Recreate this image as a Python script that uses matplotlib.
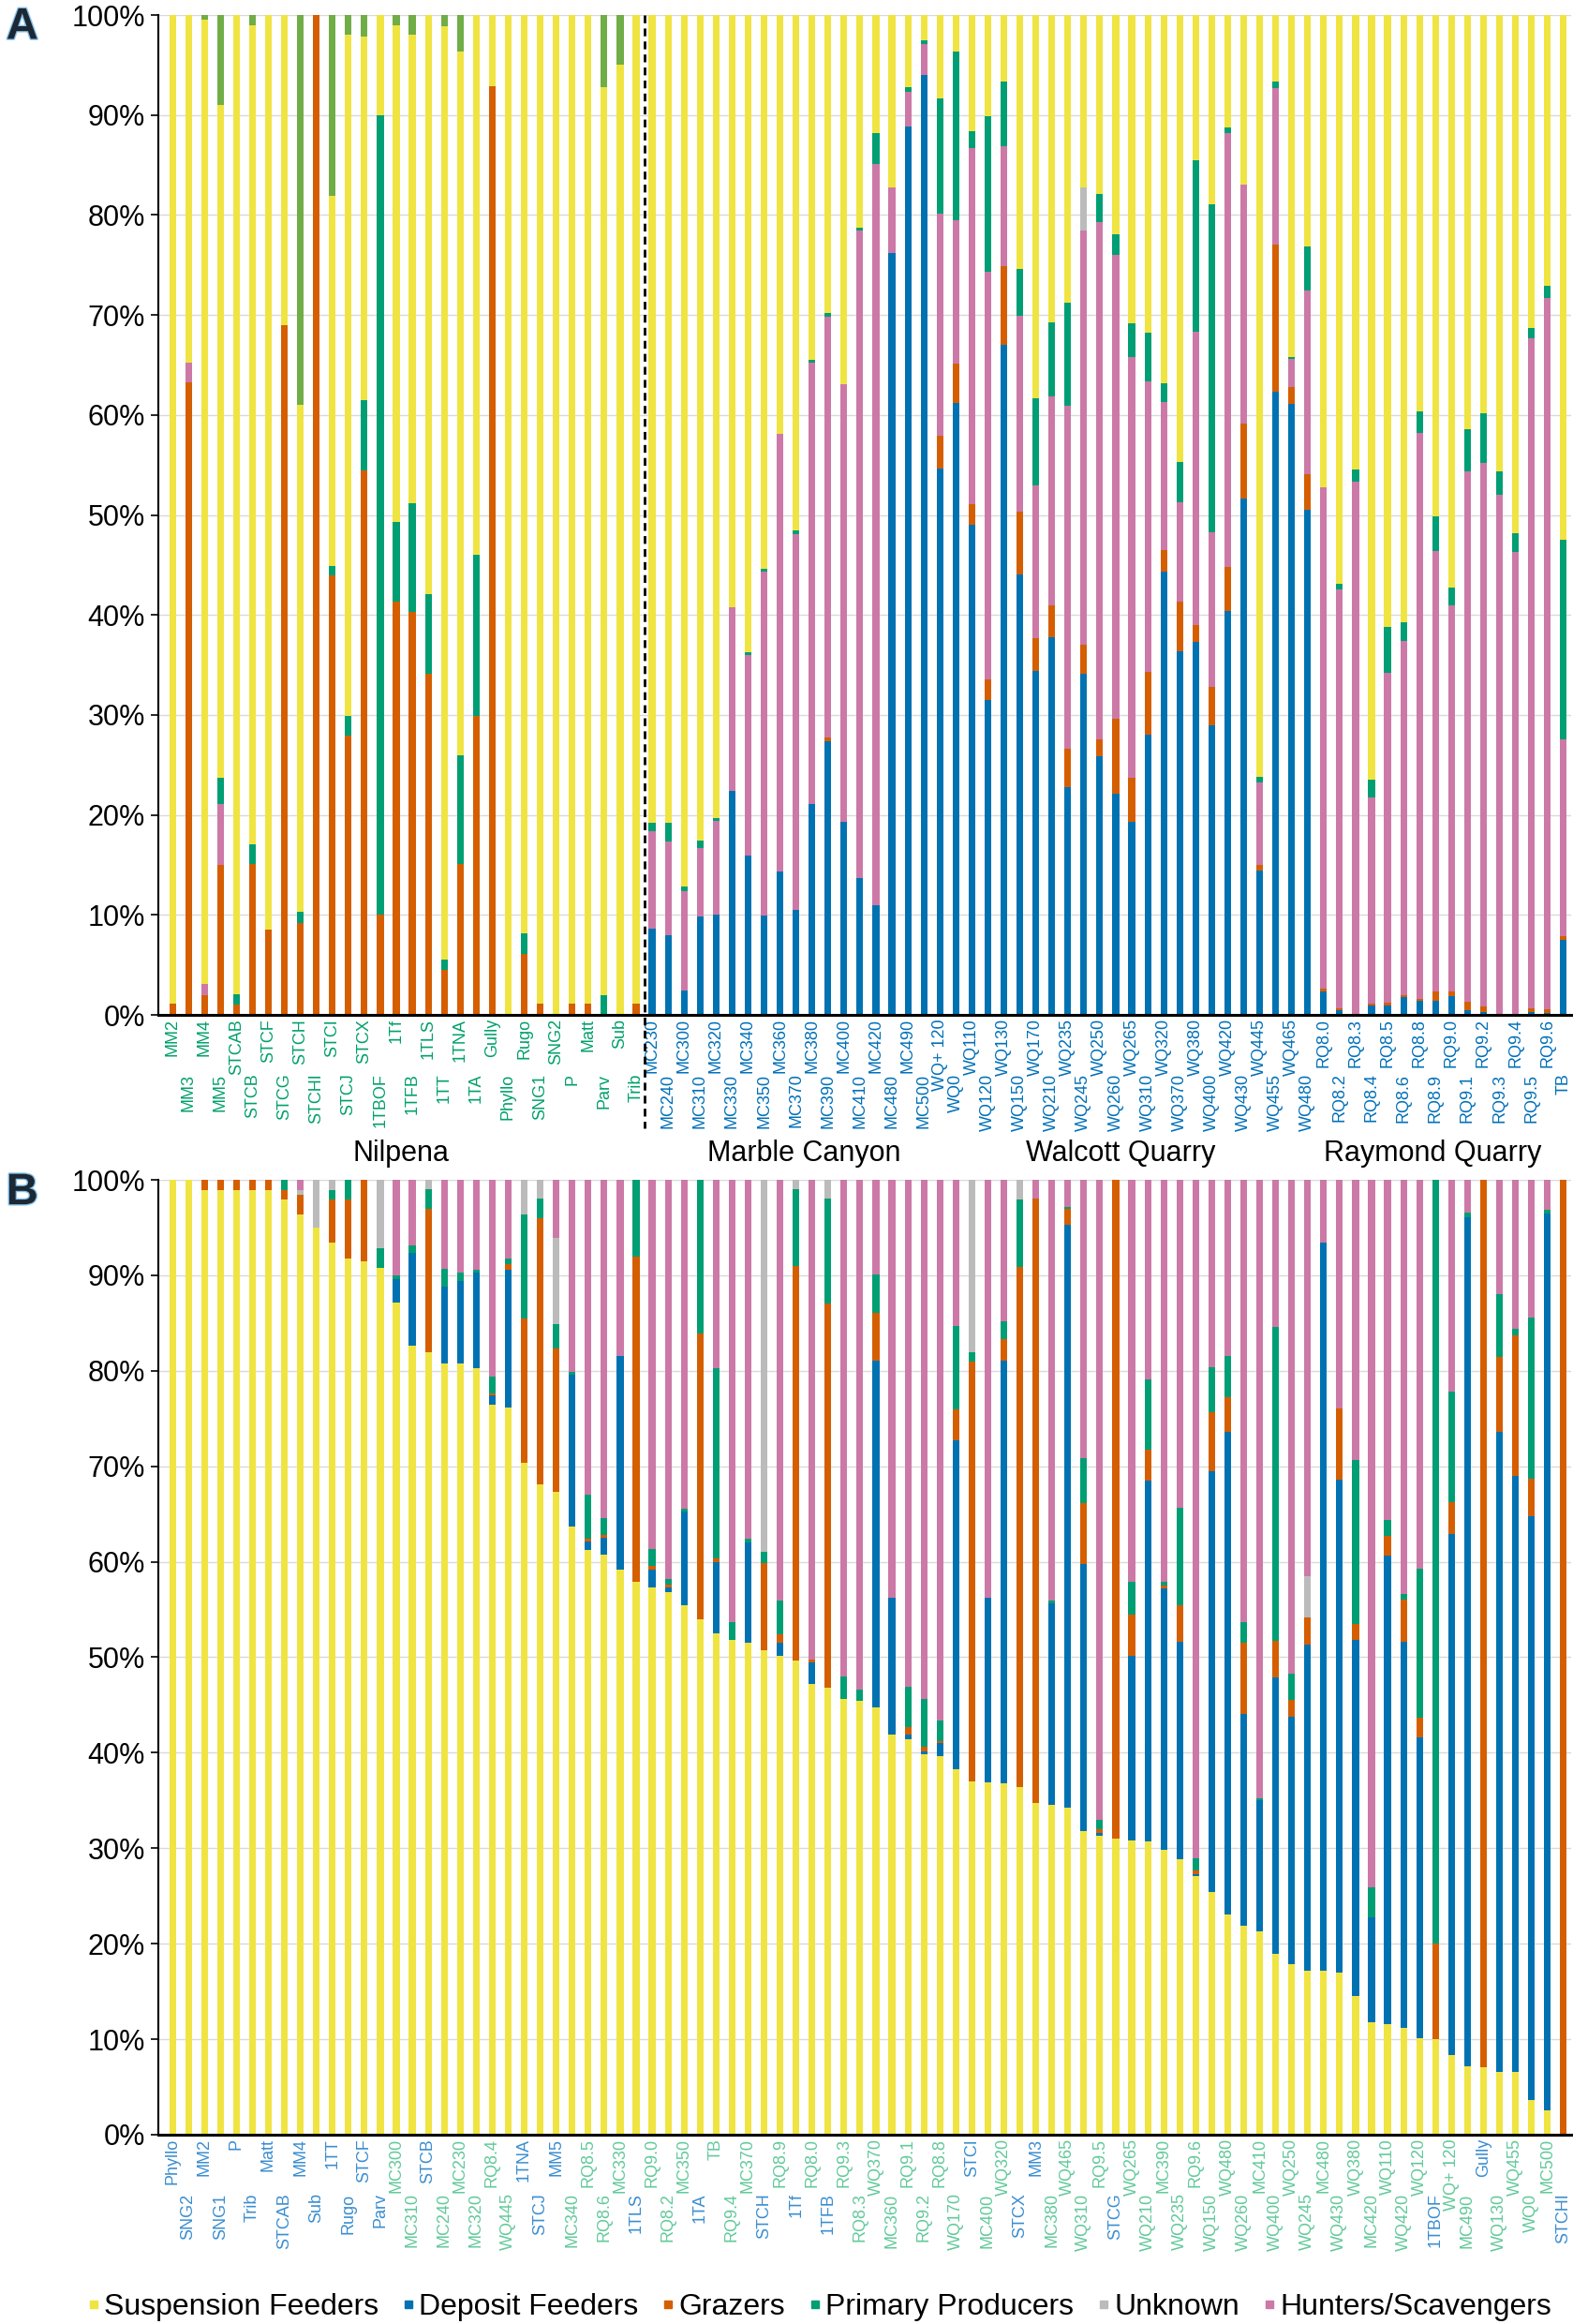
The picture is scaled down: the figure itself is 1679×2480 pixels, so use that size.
import numpy as np
import matplotlib
matplotlib.use('Agg')
import matplotlib.pyplot as plt
import matplotlib.transforms as mtransforms
import matplotlib.patheffects as pe
from matplotlib import font_manager
from matplotlib.lines import Line2D

plt.rcParams['font.family'] = ['Liberation Sans', 'DejaVu Sans']

# sites in panel A order (Nilpena first, then Burgess Shale localities)
sites = ['MM2', 'MM3', 'MM4', 'MM5', 'STCAB', 'STCB', 'STCF', 'STCG', 'STCH', 'STCHI',
         'STCI', 'STCJ', 'STCX', '1TBOF', '1Tf', '1TFB', '1TLS', '1TT', '1TNA', '1TA',
         'Gully', 'Phyllo', 'Rugo', 'SNG1', 'SNG2', 'P', 'Matt', 'Parv', 'Sub', 'Trib',
         'MC230', 'MC240', 'MC300', 'MC310', 'MC320', 'MC330', 'MC340', 'MC350', 'MC360', 'MC370',
         'MC380', 'MC390', 'MC400', 'MC410', 'MC420', 'MC480', 'MC490', 'MC500',
         'WQ+ 120', 'WQ0', 'WQ110', 'WQ120', 'WQ130', 'WQ150', 'WQ170', 'WQ210', 'WQ235', 'WQ245',
         'WQ250', 'WQ260', 'WQ265', 'WQ310', 'WQ320', 'WQ370', 'WQ380', 'WQ400', 'WQ420', 'WQ430',
         'WQ445', 'WQ455', 'WQ465', 'WQ480',
         'RQ8.0', 'RQ8.2', 'RQ8.3', 'RQ8.4', 'RQ8.5', 'RQ8.6', 'RQ8.8', 'RQ8.9', 'RQ9.0', 'RQ9.1',
         'RQ9.2', 'RQ9.3', 'RQ9.4', 'RQ9.5', 'RQ9.6', 'TB']
n_nilpena = 30

# percentages per feeding guild, same order as sites
deposit = [0, 0, 0, 0, 0, 0, 0, 0, 0, 0,
           0, 0, 0, 0, 0, 0, 0, 0, 0, 0,
           0, 0, 0, 0, 0, 0, 0, 0, 0, 0,
           8.6, 8.0, 2.4, 9.8, 10.0, 22.4, 15.9, 9.9, 14.3, 10.5,
           21.1, 27.4, 19.3, 13.7, 11.0, 76.2, 88.9, 94.0,
           54.6, 61.2, 49.0, 31.5, 67.0, 44.1, 34.4, 37.8, 22.8, 34.1,
           25.9, 22.1, 19.3, 28.0, 44.3, 36.3, 37.3, 28.9, 40.4, 51.6,
           14.4, 62.3, 61.1, 50.5,
           2.3, 0.5, 0, 0.9, 0.9, 1.8, 1.4, 1.4, 1.9, 0.5,
           0.3, 0, 0, 0.3, 0.2, 7.5]
grazers = [1.1, 63.2, 2.0, 15.0, 1.0, 15.1, 8.5, 69.0, 9.2, 100,
           44.0, 27.9, 54.5, 10.0, 41.3, 40.3, 34.1, 4.5, 15.1, 29.9,
           92.9, 0, 6.1, 1.1, 0, 1.1, 1.1, 0, 0, 1.1,
           0, 0, 0, 0, 0, 0, 0, 0, 0, 0,
           0, 0.3, 0, 0, 0, 0, 0, 0,
           3.3, 3.9, 2.1, 2.1, 7.9, 6.2, 3.3, 3.2, 3.8, 2.9,
           1.7, 7.5, 4.4, 6.3, 2.2, 5.0, 1.7, 3.9, 4.4, 7.5,
           0.6, 14.7, 1.7, 3.6,
           0.3, 0.2, 0, 0.2, 0.3, 0.2, 0.2, 0.9, 0.4, 0.8,
           0.5, 0, 0, 0.4, 0.4, 0.4]
hunters = [0, 2.0, 1.1, 6.1, 0, 0, 0, 0, 0, 0,
           0, 0, 0, 0, 0, 0, 0, 0, 0, 0,
           0, 0, 0, 0, 0, 0, 0, 0, 0, 0,
           9.7, 9.3, 10.0, 6.9, 9.4, 18.4, 20.1, 34.4, 43.8, 37.6,
           44.1, 42.1, 43.8, 64.8, 74.1, 6.6, 3.4, 3.1,
           22.2, 14.4, 35.6, 40.7, 12.0, 19.6, 15.3, 20.9, 34.3, 41.5,
           51.7, 46.3, 42.1, 29.1, 14.8, 9.9, 29.3, 15.4, 43.3, 23.9,
           8.2, 15.6, 2.8, 18.4,
           50.2, 41.8, 53.3, 20.6, 33.0, 35.4, 56.6, 44.1, 38.7, 53.1,
           54.4, 52.0, 46.3, 67.0, 71.1, 19.7]
producers = [0, 0, 0, 2.6, 1.1, 2.0, 0, 0, 1.1, 0,
             0.9, 2.0, 7.0, 80.0, 8.0, 10.9, 8.0, 1.0, 10.9, 16.1,
             0, 0, 2.1, 0, 0, 0, 0, 2.0, 0, 0,
             0.9, 1.9, 0.4, 0.7, 0.3, 0, 0.3, 0.3, 0, 0.4,
             0.3, 0.4, 0, 0.2, 3.1, 0, 0.5, 0.4,
             11.6, 16.9, 1.7, 15.6, 6.5, 4.7, 8.7, 7.4, 10.3, 0,
             2.8, 2.1, 3.4, 4.8, 1.9, 4.0, 17.2, 32.8, 0.6, 0,
             0.6, 0.7, 0.2, 4.4,
             0, 0.6, 1.2, 1.8, 4.6, 1.8, 2.2, 3.5, 1.7, 4.2,
             5.0, 2.4, 1.9, 1.0, 1.2, 19.9]
unknown = [0, 0, 0.5, 9.0, 0, 1.0, 0, 0, 39.0, 0,
           18.1, 2.0, 2.1, 0, 1.0, 2.0, 0, 1.1, 3.6, 0,
           0, 0, 0, 0, 0, 0, 0, 7.2, 5.0, 0,
           0, 0, 0, 0, 0, 0, 0, 0, 0, 0,
           0, 0, 0, 0, 0, 0, 0, 0,
           0, 0, 0, 0, 0, 0, 0, 0, 0, 4.3,
           0, 0, 0, 0, 0, 0, 0, 0, 0, 0,
           0, 0, 0, 0,
           0, 0, 0, 0, 0, 0, 0, 0, 0, 0,
           0, 0, 0, 0, 0, 0]
suspension = [98.9, 34.7, 96.4, 67.3, 97.9, 81.9, 91.5, 31.0, 50.7, 0,
              37.0, 68.1, 36.4, 10.0, 49.7, 46.8, 57.9, 93.4, 70.4, 54.0,
              7.1, 100, 91.8, 98.9, 100, 98.9, 98.9, 90.8, 95.0, 98.9,
              80.6, 80.8, 87.2, 82.6, 80.2, 59.2, 63.7, 55.4, 41.9, 51.5,
              34.5, 29.8, 36.9, 21.3, 11.8, 17.2, 7.2, 2.5,
              8.3, 3.6, 11.6, 10.1, 6.6, 25.4, 38.3, 30.7, 28.8, 17.2,
              17.9, 21.9, 30.8, 31.8, 36.8, 44.7, 14.5, 18.9, 11.2, 17.0,
              76.2, 6.6, 34.2, 23.1,
              47.2, 56.8, 45.4, 76.5, 61.2, 60.7, 39.6, 50.1, 57.3, 41.4,
              39.8, 45.6, 51.8, 31.3, 27.1, 52.5]

# panel B order (sites ranked by share of suspension feeders)
order_b = ['Phyllo', 'SNG2', 'MM2', 'SNG1', 'P', 'Trib', 'Matt', 'STCAB', 'MM4', 'Sub',
           '1TT', 'Rugo', 'STCF', 'Parv', 'MC300', 'MC310', 'STCB', 'MC240', 'MC230', 'MC320',
           'RQ8.4', 'WQ445', '1TNA', 'STCJ', 'MM5', 'MC340', 'RQ8.5', 'RQ8.6', 'MC330', '1TLS',
           'RQ9.0', 'RQ8.2', 'MC350', '1TA', 'TB', 'RQ9.4', 'MC370', 'STCH', 'RQ8.9', '1Tf',
           'RQ8.0', '1TFB', 'RQ9.3', 'RQ8.3', 'WQ370', 'MC360', 'RQ9.1', 'RQ9.2', 'RQ8.8', 'WQ170',
           'STCI', 'MC400', 'WQ320', 'STCX', 'MM3', 'MC380', 'WQ465', 'WQ310', 'RQ9.5', 'STCG',
           'WQ265', 'WQ210', 'MC390', 'WQ235', 'RQ9.6', 'WQ150', 'WQ480', 'WQ260', 'MC410', 'WQ400',
           'WQ250', 'WQ245', 'MC480', 'WQ430', 'WQ380', 'MC420', 'WQ110', 'WQ420', 'WQ120', '1TBOF',
           'WQ+ 120', 'MC490', 'Gully', 'WQ130', 'WQ455', 'WQ0', 'MC500', 'STCHI']

group_names = ['Nilpena', 'Marble Canyon', 'Walcott Quarry', 'Raymond Quarry']
group_pos = [14.3, 39.5, 59.3, 78.8]

c_susp = '#F0E442'
c_dep = '#0072B2'
c_graz = '#D55E00'
c_prod = '#009E73'
c_unk = '#BBBBBB'
c_hunt = '#CC79A7'
c_unk_nil = '#70AD47'

# site labels in the original are set in a narrow face
installed = {f.name for f in font_manager.fontManager.ttflist}
if 'Liberation Sans Narrow' in installed:
    tick_family, tick_size = 'Liberation Sans Narrow', 17
else:
    tick_family, tick_size = 'Liberation Sans', 13

# 100% stacked, like the spreadsheet version
data = np.array([deposit, grazers, hunters, producers, unknown, suspension], dtype=float)
data = data / data.sum(axis=0) * 100
dep, graz, hunt, prod, unk, susp = data
is_nil = np.arange(len(sites)) < n_nilpena


def draw_stack(ax, layers):
    x = np.arange(len(layers[0][0]))
    bottom = np.zeros(len(x))
    for vals, col in layers:
        ax.bar(x, vals, 0.42, bottom=bottom, color=col, linewidth=0, zorder=2)
        bottom += vals


def style_axes(ax, labels, colors):
    x = np.arange(len(labels))
    ax.set_xlim(-0.9, len(labels) - 0.5)
    ax.set_ylim(0, 100)
    ax.set_yticks(np.arange(0, 101, 10))
    ax.set_yticklabels([f'{v}%' for v in range(0, 101, 10)], fontsize=22)
    ax.tick_params(axis='y', length=6, width=1.2, pad=4)
    ax.grid(axis='y', color='#D9D9D9', linewidth=1, zorder=0)
    ax.set_axisbelow(True)
    for s in ['top', 'right']:
        ax.spines[s].set_visible(False)
    ax.spines['left'].set_linewidth(1.5)
    ax.spines['bottom'].set_linewidth(2.2)
    ax.set_xticks(x)
    ax.set_xticklabels(labels, rotation=90, fontsize=tick_size, family=tick_family)
    ax.tick_params(axis='x', length=0)
    # staggered labels, every other one pushed down a row
    for i, (tick, lab) in enumerate(zip(ax.xaxis.get_major_ticks(), ax.get_xticklabels())):
        tick.set_pad(3 if i % 2 == 0 else 45)
        lab.set_color(colors[i])


fig = plt.figure(figsize=(16.79, 24.80), dpi=100)
axA = fig.add_axes([0.1005, 0.5633, 0.8985, 0.4302])
axB = fig.add_axes([0.1005, 0.0815, 0.8985, 0.4108])

# panel A
unk_b = np.where(is_nil, 0, unk)
unk_n = np.where(is_nil, unk, 0)
draw_stack(axA, [(dep, c_dep), (graz, c_graz), (hunt, c_hunt), (prod, c_prod),
                 (unk_b, c_unk), (susp, c_susp), (unk_n, c_unk_nil)])
colA = ['#00A06A' if n else '#0070B8' for n in is_nil]
style_axes(axA, sites, colA)
trA = mtransforms.blended_transform_factory(axA.transData, axA.transAxes)
axA.plot([n_nilpena - 0.5, n_nilpena - 0.5], [1, -0.113], transform=trA, color='black',
         linestyle=(0, (3, 2)), linewidth=2, clip_on=False, zorder=5)
for name, pos in zip(group_names, group_pos):
    axA.text(pos, -0.139, name, transform=trA, ha='center', va='center', fontsize=22)

# panel B
idx = [sites.index(s) for s in order_b]
draw_stack(axB, [(susp[idx], c_susp), (dep[idx], c_dep), (graz[idx], c_graz),
                 (prod[idx], c_prod), (unk[idx], c_unk), (hunt[idx], c_hunt)])
colB = ['#3A8DD0' if is_nil[i] else '#62C99A' for i in idx]
style_axes(axB, order_b, colB)

for letter, y in [('A', 0.997), ('B', 0.4955)]:
    fig.text(0.004, y, letter, fontsize=34, fontweight='bold', color='#1C2833', va='top',
             path_effects=[pe.withStroke(linewidth=2, foreground='#85C1E9')])

legend_items = [('Suspension Feeders', c_susp), ('Deposit Feeders', c_dep), ('Grazers', c_graz),
                ('Primary Producers', c_prod), ('Unknown', c_unk), ('Hunters/Scavengers', c_hunt)]
handles = [Line2D([], [], marker='s', linestyle='', color=c, markersize=6) for _, c in legend_items]
fig.legend(handles, [t for t, _ in legend_items], loc='lower center', bbox_to_anchor=(0.52, -0.004),
           ncol=6, frameon=False, fontsize=23, handletextpad=0.05, columnspacing=0.7,
           handlelength=0.6, borderaxespad=0)

fig.savefig('out.png', dpi=100)
